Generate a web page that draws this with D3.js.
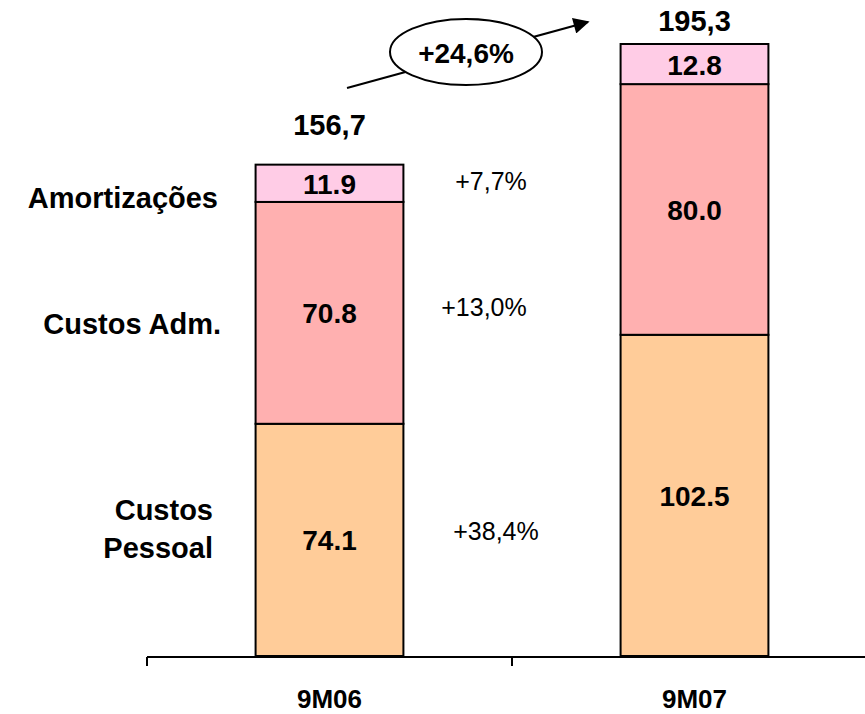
<!DOCTYPE html>
<html><head><meta charset="utf-8">
<script src="https://cdn.jsdelivr.net/npm/d3@7"></script>
<style>body{margin:0;background:#fff;} text{font-family:"Liberation Sans",Arial,sans-serif;}</style>
</head><body><svg id="c" width="865" height="714"></svg>
<script>
const categories = ["9M06", "9M07"];
const seriesNames = ["Custos Pessoal", "Custos Adm.", "Amortizações"];
const custosPessoal = [74.1, 102.5];
const custosAdm = [70.8, 80.0];
const amortizacoes = [11.9, 12.8];
const totals = ["156,7", "195,3"];
const growthLabels = ["+38,4%", "+13,0%", "+7,7%"];
const totalGrowth = "+24,6%";
const colors = ["#FFCC99", "#FFB0B0", "#FFCCE6"];

const svg = d3.select("#c");
const y = d3.scaleLinear().domain([0, 195.3]).range([656, 44]);
const x = d3.scaleBand().domain(categories).range([147, 877]).paddingInner(0).paddingOuter(0);
const barW = x.bandwidth() * 0.405;

const rows = categories.map((c, i) => ({cat: c, p: custosPessoal[i], a: custosAdm[i], m: amortizacoes[i]}));
const stack = d3.stack().keys(["p", "a", "m"])(rows);

stack.forEach((layer, li) => {
  layer.forEach((d, i) => {
    const cx = x(categories[i]) + x.bandwidth() / 2;
    svg.append("rect")
      .attr("x", cx - barW / 2).attr("y", y(d[1]))
      .attr("width", barW).attr("height", y(d[0]) - y(d[1]))
      .attr("fill", colors[li]).attr("stroke", "#000").attr("stroke-width", 2);
    svg.append("text")
      .attr("x", cx).attr("y", (y(d[0]) + y(d[1])) / 2 + 1)
      .attr("text-anchor", "middle").attr("dominant-baseline", "central")
      .attr("font-weight", "bold").attr("font-size", 28)
      .text((d[1] - d[0]).toFixed(1));
  });
});

// axis
const axis = d3.axisBottom(x).tickSize(9).tickFormat("");
const ax = svg.append("g").attr("transform", "translate(0,657)").call(axis);
ax.select(".domain").attr("stroke", "#000").attr("stroke-width", 2).attr("d", "M147,0H865");
ax.selectAll(".tick").remove();
[147, 512].forEach(t => svg.append("line").attr("x1", t).attr("x2", t).attr("y1", 657).attr("y2", 666).attr("stroke", "#000").attr("stroke-width", 2));

const totalOffset = [30, 13];
categories.forEach((c, i) => {
  const cx = x(c) + x.bandwidth() / 2;
  svg.append("text").attr("x", cx).attr("y", 708).attr("text-anchor", "middle")
    .attr("font-weight", "bold").attr("font-size", 26).text(c);
  svg.append("text").attr("x", cx).attr("y", y(custosPessoal[i] + custosAdm[i] + amortizacoes[i]) - totalOffset[i])
    .attr("text-anchor", "middle").attr("font-weight", "bold").attr("font-size", 29).text(totals[i]);
});

// left labels
const fs = 29;
svg.append("text").attr("x", 218).attr("y", 208).attr("text-anchor", "end").attr("font-weight", "bold").attr("font-size", fs).text(seriesNames[2]);
svg.append("text").attr("x", 221).attr("y", 334).attr("text-anchor", "end").attr("font-weight", "bold").attr("font-size", fs).text(seriesNames[1]);
svg.append("text").attr("x", 213).attr("y", 520).attr("text-anchor", "end").attr("font-weight", "bold").attr("font-size", fs).text("Custos");
svg.append("text").attr("x", 213).attr("y", 558).attr("text-anchor", "end").attr("font-weight", "bold").attr("font-size", fs).text("Pessoal");

// growth labels
const gx = [496, 484, 491];
const gy = [540, 316, 190];
growthLabels.forEach((g, i) => {
  svg.append("text").attr("x", gx[i]).attr("y", gy[i]).attr("text-anchor", "middle").attr("font-size", 25).text(g);
});

// arrow
svg.append("defs").append("marker").attr("id", "ah").attr("viewBox", "0 0 10 10")
  .attr("refX", 9).attr("refY", 5).attr("markerWidth", 18).attr("markerHeight", 16)
  .attr("markerUnits", "userSpaceOnUse").attr("orient", "auto")
  .append("path").attr("d", "M0,0L10,5L0,10z").attr("fill", "#000");
svg.append("line").attr("x1", 347).attr("y1", 88).attr("x2", 588).attr("y2", 22)
  .attr("stroke", "#000").attr("stroke-width", 2).attr("marker-end", "url(#ah)");
svg.append("ellipse").attr("cx", 466).attr("cy", 52).attr("rx", 76).attr("ry", 33)
  .attr("fill", "#fff").attr("stroke", "#000").attr("stroke-width", 2);
svg.append("text").attr("x", 466).attr("y", 53).attr("text-anchor", "middle").attr("dominant-baseline", "central")
  .attr("font-weight", "bold").attr("font-size", 28).text(totalGrowth);
</script></body></html>
